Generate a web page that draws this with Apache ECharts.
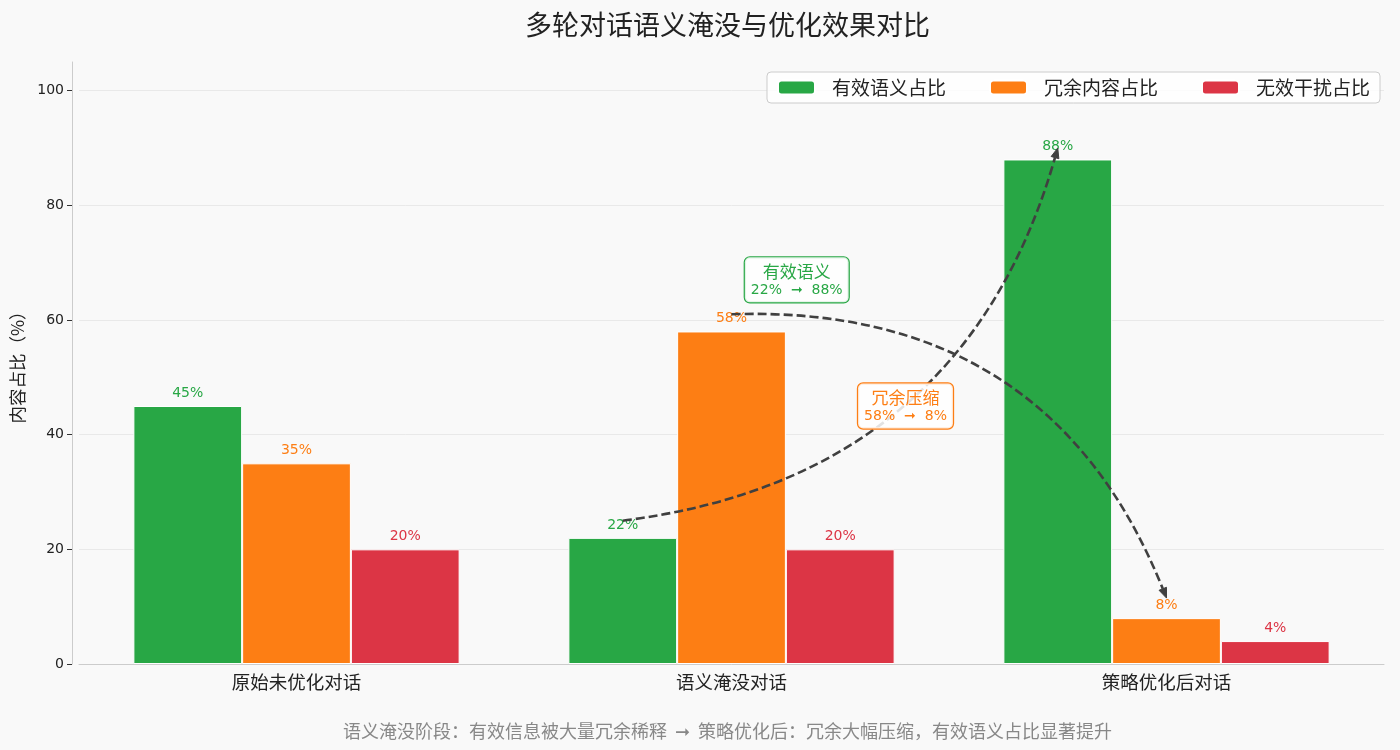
<!DOCTYPE html>
<html>
<head>
<meta charset="utf-8">
<script src="https://cdn.jsdelivr.net/npm/echarts@6/dist/echarts.min.js"></script>
<style>
  html, body { margin: 0; padding: 0; background: #f9f9f9; }
  #main { width: 1400px; height: 750px; }
</style>
</head>
<body>
<div id="main"></div>
<script>
// data
var categories = ['原始未优化对话', '语义淹没对话', '策略优化后对话'];
var effective = [45, 22, 88];
var redundant = [35, 58, 8];
var noise = [20, 20, 4];
var seriesNames = ['有效语义占比', '冗余内容占比', '无效干扰占比'];
var colors = ['#28a745', '#fd7e14', '#dc3545'];
var yTicks = [0, 20, 40, 60, 80, 100];

var titleText = '多轮对话语义淹没与优化效果对比';
var footText = '语义淹没阶段：有效信息被大量冗余稀释  ➞  策略优化后：冗余大幅压缩，有效语义占比显著提升';

var FONT = "'DejaVu Sans', 'Noto Sans CJK SC', sans-serif";
var CJK = "'Noto Sans CJK SC', 'DejaVu Sans', sans-serif";

var chart = echarts.init(document.getElementById('main'));

function barSeries(name, data, color) {
  return {
    name: name,
    type: 'bar',
    data: data,
    barWidth: '25%',
    barGap: '0%',
    itemStyle: { color: color, borderColor: '#ffffff', borderWidth: 1 },
    label: {
      show: true,
      position: 'top',
      distance: 6,
      formatter: '{c}%',
      color: color,
      fontSize: 14,
      fontFamily: FONT
    },
    z: 2
  };
}

var option = {
  backgroundColor: '#f9f9f9',
  animation: false,
  legend: {
    data: seriesNames,
    right: 20,
    top: 72,
    itemWidth: 37,
    itemHeight: 14,
    itemGap: 43,
    padding: [6, 10, 6, 10],
    backgroundColor: 'rgba(255,255,255,0.8)',
    borderColor: '#cccccc',
    borderWidth: 1,
    borderRadius: 4,
    textStyle: { fontFamily: CJK, fontSize: 19, color: '#222', padding: [0, 0, 0, 12] }
  },
  grid: { left: 79, right: 16, top: 62, bottom: 86 },
  xAxis: {
    type: 'category',
    data: categories,
    axisLine: { lineStyle: { color: '#cccccc' } },
    axisTick: { alignWithLabel: true, length: 5, lineStyle: { color: '#333' } },
    axisLabel: { fontFamily: CJK, fontSize: 18.5, color: '#222', margin: 9 }
  },
  yAxis: {
    type: 'value',
    min: 0,
    max: 105,
    interval: 20,
    offset: 7,
    name: '内容占比（%）',
    nameLocation: 'middle',
    nameGap: 42,
    nameTextStyle: { fontFamily: CJK, fontSize: 17.5, color: '#222' },
    axisLine: { show: true, lineStyle: { color: '#cccccc' } },
    axisTick: { show: true, length: 5, customValues: yTicks, lineStyle: { color: '#333' } },
    axisLabel: { fontFamily: FONT, fontSize: 14, color: '#222', customValues: yTicks },
    splitLine: { lineStyle: { color: '#e9e9e9' } }
  },
  series: [
    barSeries(seriesNames[0], effective, colors[0]),
    barSeries(seriesNames[1], redundant, colors[1]),
    barSeries(seriesNames[2], noise, colors[2])
  ]
};

chart.setOption(option);

// annotations: curved dashed arrows and text boxes, placed from data coords
function px(cat, seriesIdx, value) {
  var p0 = chart.convertToPixel({ gridIndex: 0 }, [0, 0]);
  var p1 = chart.convertToPixel({ gridIndex: 0 }, [1, 0]);
  var step = p1[0] - p0[0];
  var p = chart.convertToPixel({ gridIndex: 0 }, [0, value]);
  return [p0[0] + cat * step + (seriesIdx - 1) * step * 0.25, p[1]];
}

function arrow(from, to, rad) {
  var mx = (from[0] + to[0]) / 2, my = (from[1] + to[1]) / 2;
  var dx = to[0] - from[0], dy = to[1] - from[1];
  var cx = mx - rad * dy, cy = my + rad * dx;
  var ang = Math.atan2(to[1] - cy, to[0] - cx);
  var hl = 10, hw = 4;
  var bx = to[0] - hl * Math.cos(ang), by = to[1] - hl * Math.sin(ang);
  var nx = -Math.sin(ang), ny = Math.cos(ang);
  return [{
    type: 'bezierCurve',
    shape: { x1: from[0], y1: from[1], x2: bx, y2: by, cpx1: cx, cpy1: cy },
    style: { stroke: '#404040', lineWidth: 2.6, lineDash: [9, 4], fill: null },
    z: 10
  }, {
    type: 'polygon',
    shape: { points: [[to[0], to[1]], [bx + nx * hw, by + ny * hw], [bx - nx * hw, by - ny * hw]] },
    style: { fill: '#404040', stroke: '#404040', lineWidth: 1 },
    z: 10
  }];
}

function box(pos, title, line, color) {
  return {
    type: 'text',
    x: pos[0],
    y: pos[1],
    z: 11,
    style: {
      text: '{a|' + title + '}\n{b|' + line + '}',
      align: 'center',
      verticalAlign: 'middle',
      backgroundColor: 'rgba(255,255,255,0.85)',
      borderColor: color,
      borderWidth: 1.2,
      borderRadius: 5,
      padding: [4, 6, 4, 6],
      rich: {
        a: { fontFamily: CJK, fontSize: 17, fill: color, lineHeight: 20, align: 'center' },
        b: { fontFamily: FONT, fontSize: 14, fill: color, lineHeight: 17, align: 'center' }
      }
    }
  };
}

function drawAnnotations() {
  var g = [];
  // title and footnote are centred over the plot area, not the page
  var rect = chart.getModel().getComponent('grid', 0).coordinateSystem.getRect();
  var midX = rect.x + rect.width / 2 - 4;
  g.push({
    type: 'text', x: midX, y: 25, z: 12,
    style: { text: titleText, align: 'center', verticalAlign: 'middle',
      font: '27px ' + CJK, fill: '#222' }
  });
  g.push({
    type: 'text', x: midX, y: 731, z: 12,
    style: { text: footText, align: 'center', verticalAlign: 'middle',
      font: '18px ' + CJK, fill: '#888' }
  });
  g = g.concat(arrow(px(1, 0, effective[1] + 3), px(2, 0, effective[2] + 2), 0.33));
  g = g.concat(arrow(px(1, 1, redundant[1] + 3), px(2, 1, redundant[2] + 3.5), -0.35));
  var b1 = px(1, 1, 67); b1[0] += 0.6 * (px(1, 1, 0)[0] - px(1, 0, 0)[0]);
  var b2 = px(1, 1, 45); b2[0] += 1.6 * (px(1, 1, 0)[0] - px(1, 0, 0)[0]);
  g.push(box(b1, '有效语义', effective[1] + '%  ➞  ' + effective[2] + '%', colors[0]));
  g.push(box(b2, '冗余压缩', redundant[1] + '%  ➞  ' + redundant[2] + '%', colors[1]));
  chart.setOption({ graphic: g });
}
drawAnnotations();

window.addEventListener('resize', function () {
  chart.resize();
  drawAnnotations();
});
</script>
</body>
</html>
